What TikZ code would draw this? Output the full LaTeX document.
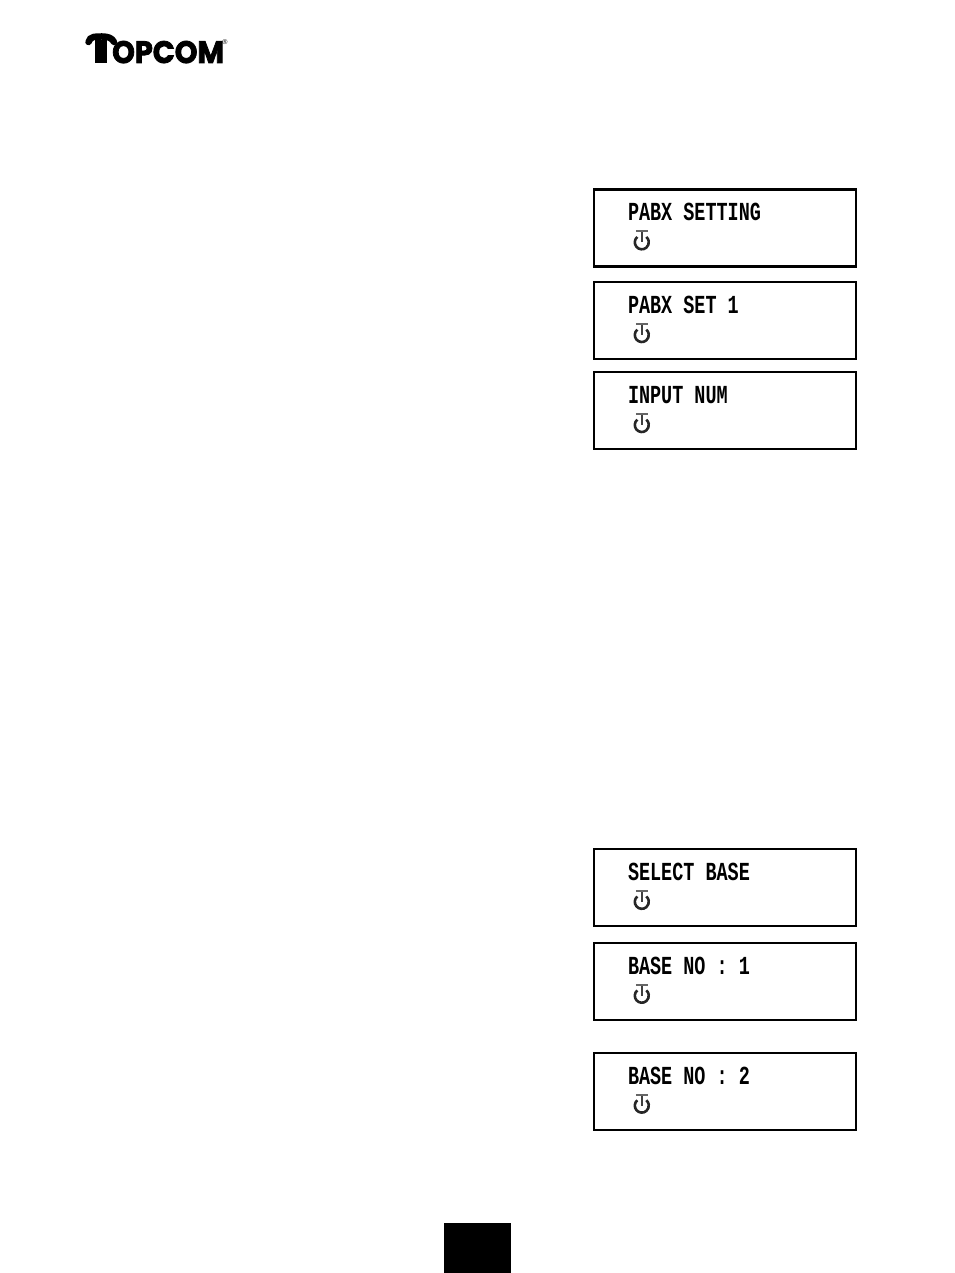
\documentclass[tikz,border=0pt]{standalone}
\usepackage{fontspec}
\usepackage{xcolor}
\usetikzlibrary{positioning,calc}
\newfontfamily\lcdfont[FakeStretch=0.71]{Liberation Mono Bold}
\newfontfamily\logofont[FakeBold=2.5,FakeStretch=0.93]{Poppins Bold}
\newfontfamily\regfont{Liberation Sans}

\begin{document}
\begin{tikzpicture}[
    x=1pt,
    y=-1pt,
    lcdbox/.style={draw, line width=2.4pt, minimum width=262pt, minimum height=77pt, inner sep=0pt},
    lcdtext/.style={anchor=base west, inner sep=0pt, font=\lcdfont\fontsize{26}{26}\selectfont},
    logotext/.style={anchor=base west, inner sep=0pt, font=\logofont\fontsize{31}{31}\selectfont},
    tab/.style={fill=black, minimum width=67pt, minimum height=50pt, inner sep=0pt},
    standby/.pic={
        \draw[line width=2.6pt, black!85] (130:7pt) arc[start angle=130, end angle=410, radius=7pt];
        \draw[line width=2.4pt, black!75] (0pt,11pt) -- (0pt,0pt);
        \draw[line width=2pt, black!60] (-6pt,11pt) -- (6pt,11pt);
    }
]
\useasboundingbox (0,0) rectangle (954,1273);

% Logo
\node[logotext] (logo) at (112,63) {OPCOM};
\coordinate (stem) at (95,63);
\fill (stem) rectangle (107,40);
\draw[line width=6.5pt, line cap=round] (88.5,42) .. controls (90,36) and (96,36.5) .. (102,36.5) .. controls (108,36.5) and (112,38) .. (114,42);
\node[font=\regfont\fontsize{7}{7}\selectfont, inner sep=0pt] (reg) at (225,42) {\textregistered};

% Upper displays
\node[lcdbox] (prbx) at (725,228) {};
\node[lcdbox, below=13.3pt of prbx] (prbxset) {};
\node[lcdbox, below=10.6pt of prbxset] (input) {};

% Lower displays
\node[lcdbox] (select) at (725,887.5) {};
\node[lcdbox, below=14.5pt of select] (baseone) {};
\node[lcdbox, below=30.5pt of baseone] (basetwo) {};

% Display texts
\node[lcdtext] (prbxtext) at ($(prbx.north west)+(35,32.5)$) {PABX SETTING};
\node[lcdtext] (prbxsettext) at ($(prbxset.north west)+(35,32.5)$) {PABX SET 1};
\node[lcdtext] (inputtext) at ($(input.north west)+(35,32.5)$) {INPUT NUM};
\node[lcdtext] (selecttext) at ($(select.north west)+(35,32.5)$) {SELECT BASE};
\node[lcdtext] (baseonetext) at ($(baseone.north west)+(35,32.5)$) {BASE NO : 1};
\node[lcdtext] (basetwotext) at ($(basetwo.north west)+(35,32.5)$) {BASE NO : 2};

% Standby icons
\pic at ($(prbx.north west)+(49,54)$) {standby};
\pic at ($(prbxset.north west)+(49,54)$) {standby};
\pic at ($(input.north west)+(49,54)$) {standby};
\pic at ($(select.north west)+(49,54)$) {standby};
\pic at ($(baseone.north west)+(49,54)$) {standby};
\pic at ($(basetwo.north west)+(49,54)$) {standby};

% Page tab
\node[tab] (pagetab) at (477.5,1248) {};

\end{tikzpicture}
\end{document}
